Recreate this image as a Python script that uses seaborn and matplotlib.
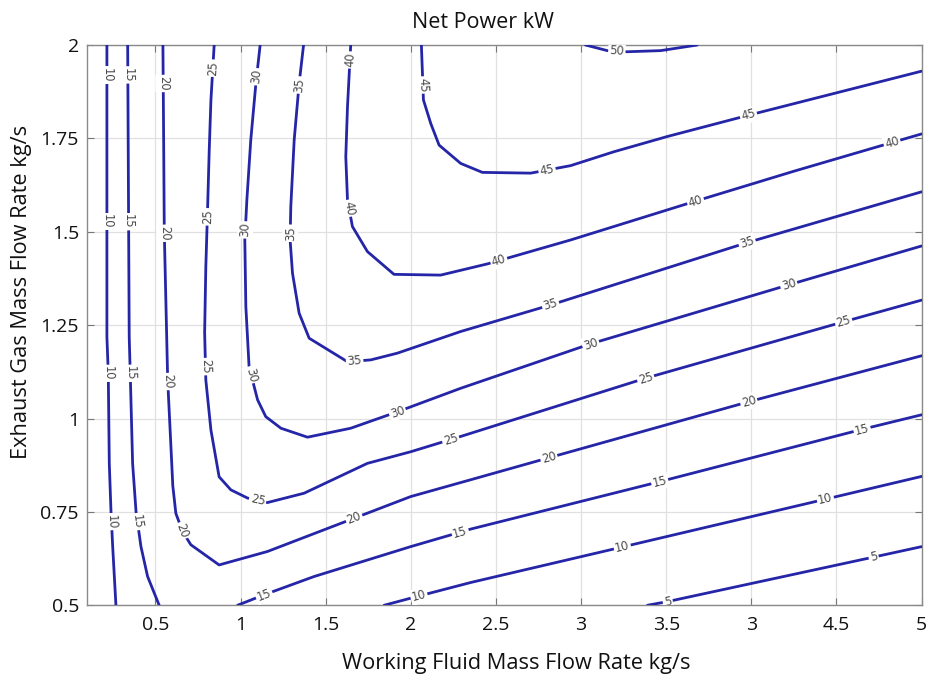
import numpy as np
import pandas as pd
import matplotlib
matplotlib.use("Agg")
import matplotlib.pyplot as plt
import seaborn as sns

# ---------------- data ----------------
c5_x = [3.39, 3.509, 4.718, 5.0]
c5_y = [0.5, 0.510, 0.629, 0.657]

c10a_x = [0.215, 0.215, 0.223, 0.229, 0.239, 0.249, 0.268]
c10a_y = [2.0, 1.219, 1.122, 0.880, 0.751, 0.657, 0.5]
c10b_x = [1.843, 1.999, 2.352, 3.242, 4.435, 5.0]
c10b_y = [0.5, 0.519, 0.561, 0.656, 0.784, 0.845]

c15a_x = [0.337, 0.346, 0.352, 0.366, 0.386, 0.415, 0.454, 0.522]
c15a_y = [2.0, 1.219, 1.122, 0.880, 0.751, 0.657, 0.577, 0.5]
c15b_x = [0.982, 1.138, 1.432, 1.999, 2.352, 3.462, 4.650, 5.0]
c15b_y = [0.5, 0.528, 0.577, 0.657, 0.704, 0.831, 0.971, 1.010]

c20_x = [0.544, 0.548, 0.552, 0.572, 0.591, 0.602, 0.620, 0.660, 0.708, 0.874, 1.158, 1.667, 1.999, 2.351, 2.811, 3.985, 5.0]
c20_y = [2.0, 1.764, 1.500, 1.103, 0.925, 0.820, 0.746, 0.697, 0.662, 0.608, 0.644, 0.733, 0.791, 0.836, 0.895, 1.045, 1.168]

c25_x = [0.845, 0.826, 0.816, 0.805, 0.796, 0.789, 0.796, 0.826, 0.874, 0.943, 1.041, 1.158, 1.373, 1.745, 1.999, 2.293, 3.379, 4.542, 5.0]
c25_y = [2.0, 1.853, 1.719, 1.540, 1.407, 1.230, 1.103, 0.969, 0.844, 0.809, 0.787, 0.775, 0.800, 0.880, 0.911, 0.952, 1.108, 1.259, 1.317]

c30_x = [1.115, 1.090, 1.060, 1.037, 1.025, 1.031, 1.050, 1.070, 1.100, 1.148, 1.237, 1.393, 1.647, 1.921, 2.293, 3.056, 4.220, 5.0]
c30_y = [2.0, 1.897, 1.746, 1.585, 1.478, 1.300, 1.139, 1.103, 1.050, 1.005, 0.974, 0.950, 0.974, 1.018, 1.081, 1.200, 1.358, 1.462]

c35_x = [1.370, 1.344, 1.315, 1.295, 1.291, 1.305, 1.344, 1.403, 1.628, 1.765, 1.921, 2.293, 2.821, 3.975, 5.0]
c35_y = [2.0, 1.897, 1.746, 1.567, 1.478, 1.389, 1.282, 1.215, 1.152, 1.157, 1.175, 1.233, 1.304, 1.471, 1.607]

c40_x = [1.647, 1.628, 1.618, 1.628, 1.657, 1.745, 1.901, 2.175, 2.450, 2.938, 3.672, 4.249, 4.826, 5.0]
c40_y = [2.0, 1.835, 1.701, 1.585, 1.514, 1.447, 1.386, 1.384, 1.414, 1.478, 1.582, 1.662, 1.739, 1.762]

c45_x = [2.062, 2.074, 2.117, 2.166, 2.293, 2.420, 2.704, 2.938, 3.191, 3.506, 3.983, 5.0]
c45_y = [2.0, 1.853, 1.790, 1.732, 1.683, 1.659, 1.657, 1.677, 1.714, 1.755, 1.812, 1.930]

c50_x = [3.026, 3.154, 3.271, 3.467, 3.682]
c50_y = [2.0, 1.985, 1.982, 1.985, 2.0]

branches = [
    ("5", 5, c5_x, c5_y),
    ("10a", 10, c10a_x, c10a_y),
    ("10b", 10, c10b_x, c10b_y),
    ("15a", 15, c15a_x, c15a_y),
    ("15b", 15, c15b_x, c15b_y),
    ("20", 20, c20_x, c20_y),
    ("25", 25, c25_x, c25_y),
    ("30", 30, c30_x, c30_y),
    ("35", 35, c35_x, c35_y),
    ("40", 40, c40_x, c40_y),
    ("45", 45, c45_x, c45_y),
    ("50", 50, c50_x, c50_y),
]

xtick_vals = [0.5, 1, 1.5, 2, 2.5, 3, 3.5, 4, 4.5, 5]
xtick_labels = ["0.5", "1", "1.5", "2", "2.5", "3", "3.5", "3", "4.5", "5"]
ytick_vals = [0.5, 0.75, 1, 1.25, 1.5, 1.75, 2]
ytick_labels = ["0.5", "0.75", "1", "1.25", "1.5", "1.75", "2"]

# where the inline labels sit along each branch (by x or by y)
label_spots = {
    "5": [("x", 3.509), ("x", 4.718)],
    "10a": [("y", 1.92), ("y", 1.527), ("y", 1.121), ("y", 0.724)],
    "10b": [("x", 2.048), ("x", 3.242), ("x", 4.435)],
    "15a": [("y", 1.92), ("y", 1.527), ("y", 1.121), ("y", 0.724)],
    "15b": [("x", 1.138), ("x", 2.29), ("x", 3.462), ("x", 4.650)],
    "20": [("y", 1.897), ("y", 1.496), ("y", 1.099), ("y", 0.70), ("x", 1.667), ("x", 2.811), ("x", 3.985)],
    "25": [("y", 1.938), ("y", 1.54), ("y", 1.139), ("x", 1.10), ("x", 2.234), ("x", 3.379), ("x", 4.542)],
    "30": [("y", 1.915), ("y", 1.505), ("y", 1.117), ("x", 1.921), ("x", 3.056), ("x", 4.220)],
    "35": [("y", 1.893), ("y", 1.496), ("x", 1.67), ("x", 2.821), ("x", 3.975)],
    "40": [("y", 1.96), ("y", 1.563), ("x", 2.517), ("x", 3.672), ("x", 4.826)],
    "45": [("y", 1.893), ("x", 2.80), ("x", 3.983)],
    "50": [("x", 3.21)],
}

rows = []
for name, lvl, xs, ys in branches:
    for i, (xv, yv) in enumerate(zip(xs, ys)):
        rows.append({"branch": name, "level": lvl, "order": i, "x": xv, "y": yv})
df = pd.DataFrame(rows)

# ---------------- plot ----------------
sns.set_theme(style="whitegrid")
plt.rcParams['font.family'] = ['Open Sans', 'DejaVu Sans']

LINE = "#2525a8"
fig = plt.figure(figsize=(9.27, 6.75), dpi=100)
ax = fig.add_axes([0.0942, 0.1033, 0.900, 0.830])
ax.set_facecolor("white")

sns.lineplot(data=df, x="x", y="y", units="branch", estimator=None, sort=False,
             color=LINE, linewidth=2.0, ax=ax, legend=False, zorder=3)

ax.set_xlim(0.1, 5.0)
ax.set_ylim(0.5, 2.0)
ax.set_xticks(xtick_vals)
ax.set_xticklabels(xtick_labels)
ax.set_yticks(ytick_vals)
ax.set_yticklabels(ytick_labels)
ax.grid(True, color="#e0e0e0", linewidth=0.9)
for s in ax.spines.values():
    s.set_visible(True)
    s.set_color("#8a8a8a")
    s.set_linewidth(1.0)
ax.tick_params(axis="both", direction="in", length=5, width=0.8, color="#777777",
               top=True, right=True, bottom=True, left=True, labelsize=14,
               labelcolor="#111111")
ax.tick_params(axis="x", pad=8)
ax.tick_params(axis="y", pad=6)

ax.set_xlabel("Working Fluid Mass Flow Rate kg/s", fontsize=15.7, color="#111111", labelpad=12)
ax.xaxis.set_label_coords(0.514, -0.085)
ax.set_ylabel("Exhaust Gas Mass Flow Rate kg/s", fontsize=15.7, color="#111111", labelpad=10)
ax.yaxis.set_label_coords(-0.066, 0.56)
ax.set_title("Net Power kW", fontsize=15.5, color="#111111", x=0.474, pad=12)


def locate(xs, ys, key, val):
    pts = np.column_stack([xs, ys]).astype(float)
    c = 0 if key == "x" else 1
    for i in range(len(pts) - 1):
        a, b = pts[i, c], pts[i + 1, c]
        if a != b and (a - val) * (b - val) <= 0:
            t = (val - a) / (b - a)
            p = pts[i] + t * (pts[i + 1] - pts[i])
            d = ax.transData.transform(pts[i + 1]) - ax.transData.transform(pts[i])
            ang = np.degrees(np.arctan2(d[1], d[0]))
            while ang >= 90:
                ang -= 180
            while ang < -90:
                ang += 180
            return p, ang
    return None, 0


for name, lvl, xs, ys in branches:
    for key, val in label_spots.get(name, []):
        p, ang = locate(xs, ys, key, val)
        if p is None:
            continue
        ax.text(p[0], p[1], str(lvl), rotation=ang, rotation_mode="anchor",
                ha="center", va="center", fontsize=8.3, color="#4a4a4a",
                family=["DejaVu Sans"],
                bbox=dict(boxstyle="square,pad=0.12", fc="white", ec="none"),
                zorder=5, clip_on=True)

fig.savefig("out.png", dpi=100)
